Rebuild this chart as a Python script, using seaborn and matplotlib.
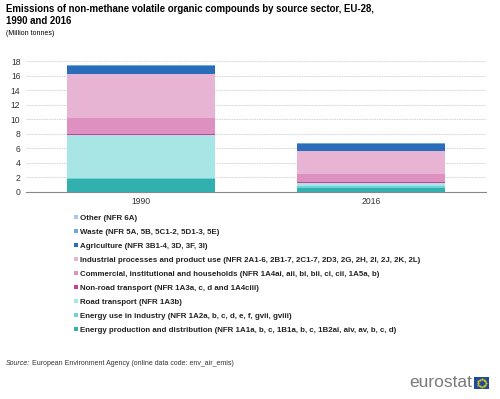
import numpy as np
import pandas as pd
import seaborn as sns
import matplotlib.pyplot as plt
from matplotlib.patches import Patch, Rectangle

years = ['1990', '2016']
sectors = [
    'Energy production and distribution (NFR 1A1a, b, c, 1B1a, b, c, 1B2ai, aiv, av, b, c, d)',
    'Energy use in industry (NFR 1A2a, b, c, d, e, f, gvii, gviii)',
    'Road transport (NFR 1A3b)',
    'Non-road transport (NFR 1A3a, c, d and 1A4ciii)',
    'Commercial, institutional and households (NFR 1A4ai, aii, bi, bii, ci, cii, 1A5a, b)',
    'Industrial processes and product use (NFR 2A1-6, 2B1-7, 2C1-7, 2D3, 2G, 2H, 2I, 2J, 2K, 2L)',
    'Agriculture (NFR 3B1-4, 3D, 3F, 3I)',
    'Waste (NFR 5A, 5B, 5C1-2, 5D1-3, 5E)',
    'Other (NFR 6A)',
]
colors = ['#32afaf', '#71d3d3', '#a8e5e5', '#cc3e9a', '#de90c0',
          '#e8b4d4', '#2a6ebb', '#6fa8dc', '#a8c8ea']

# million tonnes
v1990 = [1.75, 0.17, 5.85, 0.15, 2.2, 6.07, 1.1, 0.1, 0.08]
v2016 = [0.6, 0.22, 0.4, 0.14, 1.15, 3.1, 1.0, 0.09, 0.09]

df = pd.DataFrame({'1990': v1990, '2016': v2016}, index=sectors)
cum = df.cumsum()

plt.rcParams['font.family'] = ['Liberation Sans', 'DejaVu Sans']
fig = plt.figure(figsize=(5, 3.99), dpi=100)
ax = fig.add_axes([0.052, 0.519, 0.92, 0.328])

# stacked bars: draw cumulative totals from the top segment down
for i in range(len(sectors) - 1, -1, -1):
    d = pd.DataFrame({'year': years, 'val': cum.iloc[i].values})
    sns.barplot(data=d, x='year', y='val', color=colors[i], width=0.645,
                saturation=1, ax=ax, linewidth=0, zorder=3)

ax.set_xlim(-0.5, 1.5)
ax.set_ylim(0, 18)
ax.set_yticks(range(0, 19, 2))
ax.set_xlabel('')
ax.set_ylabel('')
ax.tick_params(axis='both', length=0, labelsize=6.2, colors='#333333', pad=4)
ax.grid(axis='y', color='#d0d0d0', linestyle=(0, (2, 1)), linewidth=0.6, zorder=0)
for s in ['top', 'right', 'left']:
    ax.spines[s].set_visible(False)
ax.spines['bottom'].set_color('#888888')
ax.spines['bottom'].set_linewidth(0.8)

fig.text(0.012, 0.99, 'Emissions of non-methane volatile organic compounds by source sector, EU-28,\n1990 and 2016',
         fontsize=6.9, fontweight='bold', va='top', linespacing=1.2)
fig.text(0.012, 0.925, '(Million tonnes)', fontsize=5, va='top')

handles = [Patch(facecolor=colors[i], label=sectors[i]) for i in range(len(sectors) - 1, -1, -1)]
leg = fig.legend(handles=handles, loc='upper left', bbox_to_anchor=(0.147, 0.462),
                 frameon=False, fontsize=5.7, handlelength=0.55, handleheight=0.55,
                 handletextpad=0.3, labelspacing=0.86, borderaxespad=0, borderpad=0)
for t in leg.get_texts():
    t.set_fontweight('bold')
    t.set_color('#222222')

fig.text(0.012, 0.09, 'Source:', fontsize=5, style='italic', color='#333333', va='center')
fig.text(0.065, 0.09, 'European Environment Agency (online data code: env_air_emis)',
         fontsize=5, color='#333333', va='center')

# eurostat logo
fig.text(0.945, 0.022, 'eurostat', fontsize=12.5, color='#7a7a7a', ha='right', va='bottom')
fig.patches.append(Rectangle((0.948, 0.025), 0.03, 0.03, transform=fig.transFigure,
                             facecolor='#1e4b9b', edgecolor='none'))
ang = np.linspace(0, 2 * np.pi, 12, endpoint=False)
fig.add_artist(plt.Line2D(0.963 + 0.008 * np.cos(ang), 0.04 + 0.01 * np.sin(ang),
                          transform=fig.transFigure, linestyle='none', marker='.',
                          markersize=1, color='#ffdd00'))

fig.savefig('out.png', dpi=100)
